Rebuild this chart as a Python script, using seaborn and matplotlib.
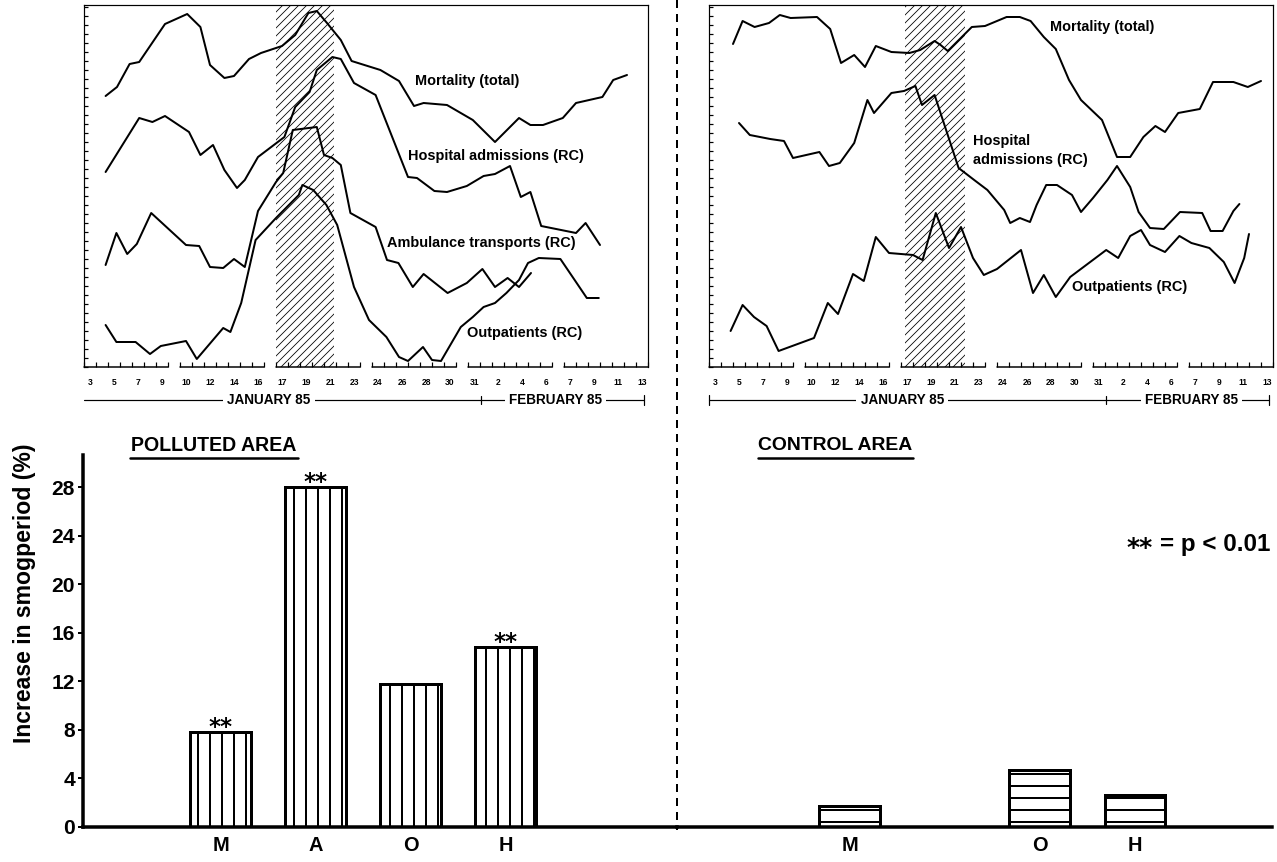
import numpy as np
import pandas as pd
import matplotlib
matplotlib.use("Agg")
import matplotlib.pyplot as plt
import seaborn as sns
from matplotlib import font_manager
from matplotlib.lines import Line2D
from matplotlib.ticker import MultipleLocator, FixedLocator

# ---------------- data ----------------
# Date axis: days grouped in weeks (8 slots per week, 7 days + gap); tick labels
date_labels = ["3", "5", "7", "9", "10", "12", "14", "16", "17", "19", "21", "23",
               "24", "26", "28", "30", "31", "2", "4", "6", "7", "9", "11", "13"]

# Polluted area (relative levels, no scale in original)
pol_mort_x = [1.3, 2.25, 3.3, 4.1, 6.25, 8.1, 9.2, 10.0, 11.2, 12.0, 13.25, 14.25, 16.0, 17.1,
              18.2, 18.9, 19.75, 20.9, 21.8, 24.2, 25.75, 27.0, 27.8, 29.75, 31.9, 33.75, 35.75,
              36.7, 37.75, 39.4, 40.5, 42.7, 43.6, 44.75]
pol_mort_y = [271, 280, 303, 305, 343, 353, 340, 302, 289, 291, 308, 314, 321, 332,
              354, 356, 344, 327, 306, 297, 286, 261, 264, 262, 247, 225, 249,
              242, 242, 249, 264, 270, 287, 292]

pol_hosp_x = [1.3, 4.1, 5.2, 6.25, 8.25, 9.2, 10.25, 11.2, 12.25, 12.9, 14.0, 16.2, 17.1, 18.3,
              18.9, 20.2, 20.9, 22.0, 23.8, 26.5, 27.25, 28.7, 29.75, 31.4, 32.8, 33.75, 35.0,
              35.9, 36.7, 37.6, 40.5, 41.3, 42.5]
pol_hosp_y = [195, 249, 245, 251, 235, 212, 222, 197, 179, 187, 210, 230, 260, 275,
              297, 310, 308, 284, 272, 190, 189, 176, 175, 181, 191, 193, 201,
              170, 175, 141, 134, 144, 122]

pol_amb_x = [1.3, 2.2, 3.1, 3.9, 5.1, 8.0, 9.1, 10.0, 11.1, 12.0, 12.9, 14.0, 15.5, 16.1,
             16.9, 18.9, 19.5, 20.2, 20.9, 21.7, 23.8, 24.75, 25.7, 26.9, 27.8, 29.8, 31.4,
             32.7, 33.75, 34.8, 35.75, 36.75]
pol_amb_y = [102, 134, 113, 123, 154, 122, 121, 100, 99, 108, 100, 156, 185, 194,
             237, 240, 212, 209, 202, 154, 140, 107, 104, 80, 93, 74, 84,
             98, 80, 89, 80, 94]

pol_out_x = [1.3, 2.2, 3.8, 5.0, 5.9, 8.0, 8.9, 11.1, 11.7, 12.6, 13.8, 15.5, 17.4, 17.7,
             18.6, 19.7, 20.6, 22.0, 23.25, 24.7, 25.75, 26.5, 27.75, 28.5, 29.25, 30.9, 31.9,
             32.8, 33.75, 34.7, 35.75, 36.5, 37.4, 39.2, 40.5, 41.4, 42.4]
pol_out_y = [42, 25, 25, 13, 21, 26, 8, 39, 35, 64, 127, 149, 172, 182,
             177, 162, 142, 80, 47, 30, 10, 6, 20, 7, 6, 40, 50,
             60, 64, 74, 87, 104, 109, 108, 85, 69, 69]

# Control area
ctl_mort_x = [1.5, 2.3, 3.3, 4.5, 5.4, 6.3, 8.5, 9.6, 10.5, 11.6, 12.5, 13.4, 14.7, 16.2,
              17.1, 18.3, 18.8, 19.4, 21.4, 22.5, 24.3, 25.4, 26.3, 27.4, 28.4, 29.5, 30.5,
              32.25, 33.5, 34.6, 35.7, 36.7, 37.5, 38.6, 40.4, 41.5, 43.2, 44.4, 45.5]
ctl_mort_y = [323, 346, 340, 344, 352, 349, 350, 338, 304, 312, 300, 321, 315, 314,
              317, 326, 322, 316, 340, 341, 350, 350, 346, 330, 318, 287, 267,
              247, 210, 210, 230, 241, 235, 254, 258, 285, 285, 280, 286]

ctl_hosp_x = [2.0, 2.9, 4.6, 5.75, 6.5, 8.7, 9.5, 10.4, 11.6, 12.7, 13.25, 14.7, 15.75, 16.7,
              17.25, 18.3, 20.3, 21.6, 22.7, 24.1, 24.6, 25.4, 26.25, 26.8, 27.6, 28.5, 29.75,
              30.5, 31.5, 32.7, 33.5, 34.6, 35.3, 36.25, 37.4, 38.75, 40.6, 41.3, 42.3, 43.2, 43.7]
ctl_hosp_y = [244, 232, 228, 226, 209, 215, 201, 204, 224, 267, 254, 274, 276, 281,
              262, 272, 199, 187, 177, 157, 144, 149, 145, 162, 182, 182, 172,
              155, 169, 187, 201, 180, 155, 139, 138, 155, 154, 136, 136, 156, 163]

ctl_out_x = [1.3, 2.3, 3.25, 4.3, 5.3, 8.25, 9.4, 10.25, 11.5, 12.4, 13.4, 14.5, 16.5, 17.3,
             18.4, 19.5, 20.5, 21.5, 22.4, 23.5, 25.5, 26.5, 27.4, 28.4, 29.6, 32.6, 33.6,
             34.6, 35.5, 36.25, 37.5, 38.7, 39.7, 41.2, 42.4, 43.3, 44.1, 44.5]
ctl_out_y = [36, 62, 50, 41, 16, 29, 64, 53, 93, 86, 130, 114, 112, 107,
             154, 119, 140, 109, 92, 98, 117, 74, 92, 70, 90, 117, 109,
             131, 137, 122, 115, 131, 124, 119, 105, 84, 109, 133]

smog_pol = (15.5, 20.3)
smog_ctl = (15.8, 20.8)

# Bar chart: increase in smog period (%)
bar_cats = ["M", "A", "O", "H"]
pol_vals = [7.8, 28.0, 11.8, 14.8]
pol_sig = [True, True, False, True]
ctl_cats = ["M", "O", "H"]
ctl_vals = [1.7, 4.7, 2.6]
y_ticks = [0, 4, 8, 12, 16, 20, 24, 28]

# ---------------- style ----------------
sns.set_style("white")
names = {f.name for f in font_manager.fontManager.ttflist}
FONT = "Liberation Sans" if "Liberation Sans" in names else "DejaVu Sans"
plt.rcParams["font.family"] = [FONT, "DejaVu Sans"]
plt.rcParams["hatch.color"] = "black"
for k in ("text.color", "axes.labelcolor", "xtick.color", "ytick.color", "axes.edgecolor"):
    plt.rcParams[k] = "black"
STAR = ["DejaVu Sans"]

W, H = 1277, 862
DPI = 72
fig = plt.figure(figsize=(W / DPI, H / DPI), dpi=DPI)
fig.patch.set_facecolor("white")

fit_items = []


def rect(x0, y0, x1, y1):
    return [x0 / W, 1 - y1 / H, (x1 - x0) / W, (y1 - y0) / H]


def ftext(x, y, s, target=None, **kw):
    t = fig.text(x / W, 1 - y / H, s, **kw)
    if target:
        fit_items.append((t, target, "w"))
    return t


def thin_hatch(patch, lw):
    orig = patch.draw

    def draw(renderer, _orig=orig):
        with plt.rc_context({"hatch.linewidth": lw}):
            _orig(renderer)
    patch.draw = draw


# ---------------- top panels ----------------
major = [w * 8 + d for w in range(6) for d in (0, 2, 4, 6)]
minor = [w * 8 + k - 0.5 for w in range(6) for k in range(8)]


def setup_top(ax, series, smog, jan_x, feb_x, start_tick):
    for xs, ys in series:
        df = pd.DataFrame({"slot": xs, "level": ys})
        sns.lineplot(data=df, x="slot", y="level", ax=ax, color="black", lw=2.0,
                     sort=False, estimator=None)
    with plt.rc_context({"hatch.linewidth": 0.8}):
        sp = ax.axvspan(smog[0], smog[1], facecolor="none", edgecolor="black",
                        hatch="///", lw=0)
    try:
        sp.set_hatch_linewidth(0.8)
    except AttributeError:
        pass
    thin_hatch(sp, 0.8)
    ax.set_xlim(-0.5, 46.5)
    ax.set_ylim(0, 362)
    ax.set_xlabel("")
    ax.set_ylabel("")
    ax.spines["bottom"].set_visible(False)
    for s in ("left", "right", "top"):
        ax.spines[s].set_linewidth(1.2)
    ax.xaxis.set_major_locator(FixedLocator(major))
    ax.set_xticklabels(date_labels, fontsize=8.5, fontweight="bold")
    ax.xaxis.set_minor_locator(FixedLocator(minor))
    ax.tick_params(axis="x", which="major", length=0, pad=11)
    ax.tick_params(axis="x", which="minor", direction="in", length=5, width=1.2,
                   bottom=True, top=False)
    ax.yaxis.set_major_locator(MultipleLocator(9))
    ax.tick_params(axis="y", which="major", direction="in", length=4, width=1.2,
                   left=True, right=False, labelleft=False)
    for w in range(6):
        ax.plot([w * 8 - 0.5, w * 8 + 6.5], [0, 0], color="black", lw=1.5, clip_on=False)
    # month line under dates
    tr = ax.get_xaxis_transform()
    ax.plot([-0.5, 46.2], [-0.091, -0.091], transform=tr, color="black", lw=1.2, clip_on=False)
    ax.plot([32.6, 32.6], [-0.101, -0.081], transform=tr, color="black", lw=1.2, clip_on=False)
    ax.plot([46.2, 46.2], [-0.106, -0.076], transform=tr, color="black", lw=1.2, clip_on=False)
    if start_tick:
        ax.plot([-0.5, -0.5], [-0.106, -0.076], transform=tr, color="black", lw=1.2, clip_on=False)
    box = dict(facecolor="white", edgecolor="none", pad=4)
    ax.text(jan_x, -0.091, "JANUARY 85", transform=tr, ha="center", va="center",
            fontsize=13.5, fontweight="bold", bbox=box)
    ax.text(feb_x, -0.091, "FEBRUARY 85", transform=tr, ha="center", va="center",
            fontsize=13.5, fontweight="bold", bbox=box)


axTL = fig.add_axes(rect(84, 5, 648, 367))
setup_top(axTL, [(pol_mort_x, pol_mort_y), (pol_hosp_x, pol_hosp_y),
                 (pol_amb_x, pol_amb_y), (pol_out_x, pol_out_y)], smog_pol,
          14.9, 38.8, False)
axTR = fig.add_axes(rect(709, 5, 1273, 367))
setup_top(axTR, [(ctl_mort_x, ctl_mort_y), (ctl_hosp_x, ctl_hosp_y),
                 (ctl_out_x, ctl_out_y)], smog_ctl, 15.6, 39.7, True)

lab = dict(fontsize=14.5, fontweight="bold", va="center", ha="left")
ftext(415, 81, "Mortality (total)", **lab)
ftext(408, 156, "Hospital admissions (RC)", **lab)
ftext(387, 243, "Ambulance transports (RC)", **lab)
ftext(467, 333, "Outpatients (RC)", **lab)
ftext(1050, 27, "Mortality (total)", **lab)
ftext(973, 141, "Hospital", **lab)
ftext(973, 160, "admissions (RC)", **lab)
ftext(1072, 287, "Outpatients (RC)", **lab)

# ---------------- bar charts ----------------
plt.rcParams["hatch.linewidth"] = 2.0
axBL = fig.add_axes(rect(83, 455, 677, 827))
axBR = fig.add_axes(rect(677, 455, 1272, 827))

df_pol = pd.DataFrame({"measure": bar_cats, "increase": pol_vals})
sns.barplot(data=df_pol, x="measure", y="increase", order=bar_cats, ax=axBL,
            color="white", saturation=1, edgecolor="black", linewidth=3,
            width=0.64, hatch="|", errorbar=None)
df_ctl = pd.DataFrame({"measure": ctl_cats, "increase": ctl_vals})
sns.barplot(data=df_ctl, x="measure", y="increase", order=bar_cats, ax=axBR,
            color="white", saturation=1, edgecolor="black", linewidth=3,
            width=0.64, hatch="-", errorbar=None)
for ax in (axBL, axBR):
    for p in ax.patches:
        try:
            p.set_hatch_linewidth(2.0)
        except AttributeError:
            pass

for i, (v, s) in enumerate(zip(pol_vals, pol_sig)):
    if s:
        axBL.annotate("**", (i, v), xytext=(0, -2), textcoords="offset points",
                      ha="center", va="baseline", fontsize=23, fontweight="bold",
                      family=STAR)

ymax = (827 - 455) / 12.14
axBL.set_xlim(-1.45, -1.45 + (677 - 83) / 95)
axBR.set_xlim(-1.82, -1.82 + (1272 - 677) / 95)
for ax in (axBL, axBR):
    ax.set_ylim(0, ymax)
    ax.set_xlabel("")
    ax.set_ylabel("")
    ax.patch.set_alpha(0)
    for s in ("top", "right"):
        ax.spines[s].set_visible(False)
    ax.spines["bottom"].set_linewidth(3.5)
    ax.tick_params(axis="x", length=0, pad=9, labelsize=20)
    for t in ax.get_xticklabels():
        t.set_fontweight("bold")

axBL.spines["left"].set_linewidth(3.5)
axBL.set_yticks(y_ticks)
axBL.set_yticklabels([str(t) for t in y_ticks], fontsize=21, fontweight="bold")
axBL.tick_params(axis="y", direction="out", length=5, width=2, pad=3, left=True)
axBL.set_ylabel("Increase in smogperiod (%)", fontsize=22, fontweight="bold")
axBL.yaxis.set_label_coords((36 - 83) / 594, (827 - 593) / 372)
fit_items.append((axBL.yaxis.label, 300, "h"))

axBR.spines["left"].set_visible(False)
axBR.set_yticks([])
axBR.set_xticks(range(len(bar_cats)))
axBR.set_xticklabels(["M", "", "O", "H"], fontsize=20, fontweight="bold")

# titles with underline
ftext(214, 445, "POLLUTED AREA", target=166, fontsize=20, fontweight="bold", ha="center", va="center")
fig.add_artist(Line2D([130 / W, 298 / W], [1 - 458 / H, 1 - 458 / H], color="black", lw=2.5))
ftext(835, 445, "CONTROL AREA", target=155, fontsize=20, fontweight="bold", ha="center", va="center")
fig.add_artist(Line2D([758 / W, 913 / W], [1 - 458 / H, 1 - 458 / H], color="black", lw=2.5))

# significance key
ftext(1140, 555, "**", fontsize=25, fontweight="bold", ha="center", va="baseline", family=STAR)
ftext(1270, 545, "= p < 0.01", target=110, fontsize=22, fontweight="bold", ha="right", va="center")

# dashed divider
fig.add_artist(Line2D([677 / W, 677 / W], [1 - 0 / H, 1 - 830 / H], color="black",
                      lw=2, linestyle=(0, (4, 3))))

# scale some free texts so that their extent matches the original lettering
fig.canvas.draw()
renderer = fig.canvas.get_renderer()
for t, target, dim in fit_items:
    bb = t.get_window_extent(renderer)
    cur = bb.width if dim == "w" else bb.height
    if cur > 0:
        t.set_fontsize(t.get_fontsize() * target / cur)

fig.savefig("out.png", dpi=DPI, facecolor="white")
